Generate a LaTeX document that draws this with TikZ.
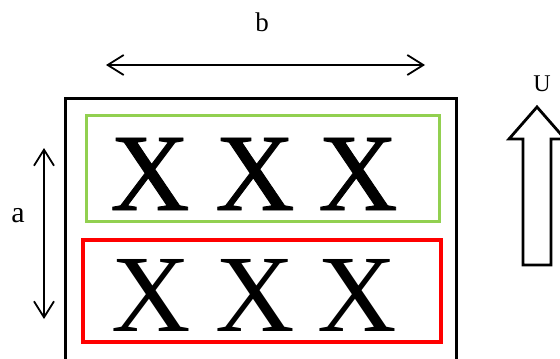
\documentclass[tikz,border=0pt]{standalone}
\usepackage{fontspec}
\setmainfont{Liberation Serif}
\newfontfamily\tebal[FakeBold=0.8]{Liberation Serif}
\usetikzlibrary{arrows.meta,positioning,calc}

\tikzset{
  dimarrow/.style={line width=1.8pt, {Straight Barb[length=16pt,width=20pt,line width=1.8pt]}-{Straight Barb[length=16pt,width=20pt,line width=1.8pt]}},
  bigx/.style={font=\fontsize{110}{110}\selectfont, inner sep=0pt, anchor=base},
  rowbox/.style={rectangle, draw, line width=3pt, inner sep=0pt}
}

\begin{document}
\begin{tikzpicture}[x=1pt, y=-1pt]
\useasboundingbox (0,0) rectangle (560,359);

% kotak luar (terbuka di bawah)
\draw[line width=3pt] (65,359) -- (65,98) -- (456,98) -- (456,359);

\node[rowbox, draw={rgb,255:red,146;green,208;blue,80}, minimum width=353pt, minimum height=106pt] (atas) at (263,168) {};
\node[rowbox, draw=red, line width=3.5pt, minimum width=358pt, minimum height=102pt] (bawah) at (262,291) {};

\node[bigx, font=\tebal\fontsize{110}{110}\selectfont] (x1) at (150,210) {X};
\node[bigx, font=\tebal\fontsize{110}{110}\selectfont] (x2) at (255,210) {X};
\node[bigx, font=\tebal\fontsize{110}{110}\selectfont] (x3) at (358,210) {X};
\node[bigx] (x4) at (151,331) {X};
\node[bigx] (x5) at (255,331) {X};
\node[bigx] (x6) at (357,331) {X};

% ukuran b dan a
\coordinate (bkiri) at (106,65);
\coordinate (bkanan) at (425,65);
\draw[dimarrow] (bkiri) -- (bkanan);
\node[font=\fontsize{27}{27}\selectfont] (lb) at (262,22) {b};

\coordinate (aatas) at (44,148);
\coordinate (abawah) at (44,319);
\draw[dimarrow] (aatas) -- (abawah);
\node[font=\fontsize{30}{30}\selectfont] (la) at (18,216) {a};

% arah U
\node[font=\fontsize{24}{24}\selectfont] (lu) at (542,84) {U};
\draw[line width=2.8pt, fill=white, line join=miter]
  (523,265) -- (523,139) -- (509,139) -- (537,107) -- (565,139) -- (551,139) -- (551,265) -- cycle;
\end{tikzpicture}
\end{document}
